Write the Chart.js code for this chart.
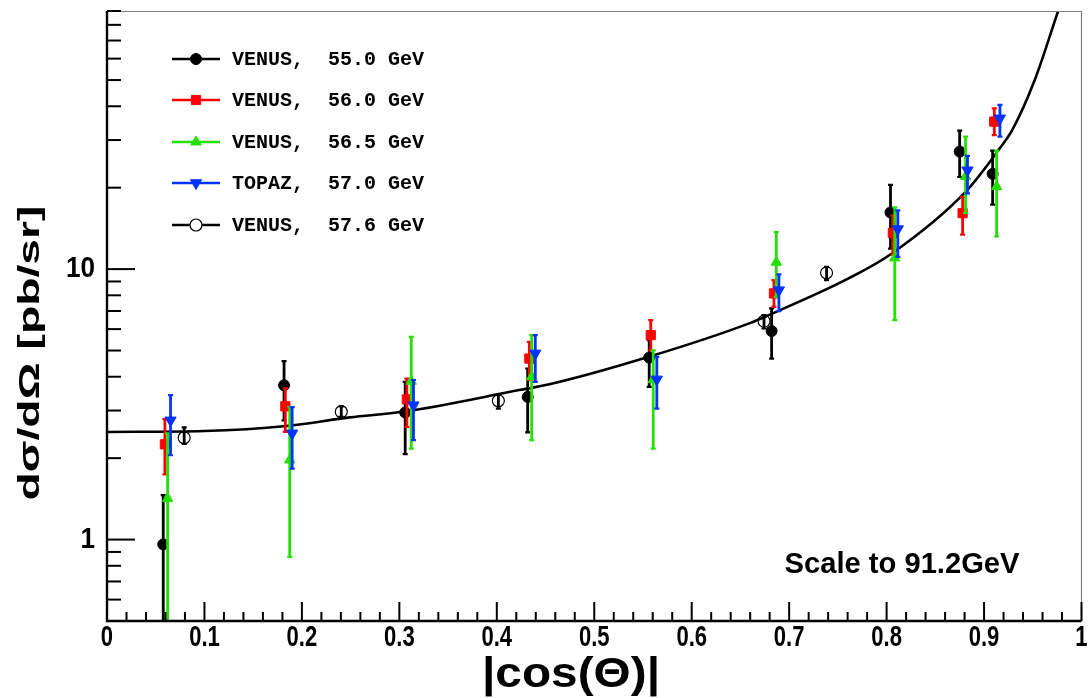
<!DOCTYPE html>
<html><head><meta charset="utf-8">
<script src="https://cdn.jsdelivr.net/npm/chart.js@4/dist/chart.umd.min.js"></script>
<style>html,body{margin:0;padding:0;background:#fff;}canvas{display:block;}</style>
</head><body>
<canvas id="c" width="1089" height="698"></canvas>
<script>
// ---- data ----
const seriesLabels = ['VENUS,  55.0 GeV','VENUS,  56.0 GeV','VENUS,  56.5 GeV','TOPAZ,  57.0 GeV','VENUS,  57.6 GeV'];

const v550_x  = [0.0577, 0.1817, 0.306, 0.4317, 0.5564, 0.682, 0.804, 0.875, 0.9088];
const v550_y  = [0.96, 3.72, 2.95, 3.37, 4.71, 5.90, 16.2, 27.2, 22.5];
const v550_lo = [0.40, 2.76, 2.07, 2.49, 3.67, 4.67, 11.9, 21.9, 17.3];
const v550_hi = [1.46, 4.57, 3.83, 4.29, 5.46, 7.16, 20.5, 32.5, 27.4];

const v560_x  = [0.0594, 0.183, 0.3077, 0.4334, 0.558, 0.6844, 0.8064, 0.878, 0.9105];
const v560_y  = [2.25, 3.11, 3.30, 4.67, 5.70, 8.13, 13.6, 16.1, 35.1];
const v560_lo = [1.74, 2.50, 2.61, 3.89, 5.01, 7.25, 11.3, 13.4, 31.3];
const v560_hi = [2.79, 3.62, 3.94, 5.38, 6.48, 9.11, 15.8, 18.5, 39.3];

const v565_x  = [0.0622, 0.1875, 0.3122, 0.4358, 0.5605, 0.6868, 0.8084, 0.881, 0.9129];
const v565_y  = [1.42, 1.97, 3.85, 4.0, 3.9, 10.6, 11.0, 22.0, 20.2];
const v565_lo = [0.40, 0.862, 2.17, 2.33, 2.17, 7.9, 6.48, 16.1, 13.2];
const v565_hi = [2.47, 3.09, 5.62, 5.70, 5.01, 13.7, 16.9, 30.9, 27.4];

const t570_x  = [0.0652, 0.190, 0.3145, 0.4395, 0.5642, 0.6895, 0.8115, 0.883, 0.9163];
const t570_y  = [2.76, 2.47, 3.14, 4.88, 3.91, 8.36, 14.06, 23.2, 36.1];
const t570_lo = [2.05, 1.83, 2.33, 3.83, 3.05, 6.99, 11.1, 19.05, 30.9];
const t570_hi = [3.42, 3.09, 3.89, 5.70, 4.74, 9.56, 16.5, 26.2, 40.5];

const v576_x  = [0.0792, 0.2404, 0.4016, 0.6742, 0.7384];
const v576_y  = [2.38, 2.97, 3.26, 6.42, 9.69];
const v576_lo = [2.26, 2.84, 3.05, 6.03, 9.1];
const v576_hi = [2.60, 3.11, 3.44, 6.76, 10.2];

const curve_x = [0, 0.1, 0.184, 0.249, 0.307, 0.423, 0.454, 0.556, 0.659, 0.679, 0.761, 0.805, 0.881, 0.915, 0.929, 0.952, 0.976];
const curve_y = [2.50, 2.52, 2.63, 2.83, 2.98, 3.57, 3.75, 4.74, 6.30, 6.76, 9.24, 11.4, 19.3, 27.6, 32.7, 50, 90];

const xTickValues = [0,0.1,0.2,0.3,0.4,0.5,0.6,0.7,0.8,0.9,1];
const yTickValues = [1, 10];
const noteText = 'Scale to 91.2GeV';
const xTitle = '|cos(\u0398)|';
const yTitle = 'd\u03C3/d\u03A9 [pb/sr]';

// ---- build ----
function pts(xs, ys, lo, hi){ return xs.map((x,i)=>({x:x, y:ys[i], lo:lo?lo[i]:null, hi:hi?hi[i]:null})); }

const seriesDefs = [
  {x:v550_x,y:v550_y,lo:v550_lo,hi:v550_hi,color:'#000000',style:'circle',r:5.5,rot:0,fill:'#000000',bw:1},
  {x:v560_x,y:v560_y,lo:v560_lo,hi:v560_hi,color:'#ff0000',style:'rect',r:6.5,rot:0,fill:'#ff0000',bw:1},
  {x:v565_x,y:v565_y,lo:v565_lo,hi:v565_hi,color:'#22e000',style:'triangle',r:6,rot:0,fill:'#22e000',bw:1},
  {x:t570_x,y:t570_y,lo:t570_lo,hi:t570_hi,color:'#0033ff',style:'triangle',r:6.5,rot:180,fill:'#0033ff',bw:1},
  {x:v576_x,y:v576_y,lo:v576_lo,hi:v576_hi,color:'#000000',style:'circle',r:6,rot:0,fill:'rgba(255,255,255,0)',bw:1.2}
];

const datasets = seriesDefs.map((s,i)=>({
  label: seriesLabels[i],
  data: pts(s.x,s.y,s.lo,s.hi),
  showLine:false,
  pointStyle:s.style,
  pointRadius:s.r,
  pointRotation:s.rot,
  pointBackgroundColor:s.fill,
  pointBorderColor:s.color,
  pointBorderWidth:s.bw,
  borderColor:s.color,
  errColor:s.color,
  order: 5 - i
}));
datasets.push({
  label:'curve',
  data: pts(curve_x, curve_y),
  showLine:true,
  pointRadius:0,
  borderColor:'#000',
  borderWidth:2.6,
  cubicInterpolationMode:'monotone',
  order: 10
});

const CA = {left:107, right:1083, top:11, bottom:621};
const SANS = '"Liberation Sans", Arial, sans-serif';

function fitText(ctx, text, cx, cy, font, width, rot){
  ctx.save();
  ctx.font = font; ctx.textAlign = 'center'; ctx.textBaseline = 'middle';
  const w = ctx.measureText(text).width;
  ctx.translate(cx, cy);
  if(rot) ctx.rotate(rot);
  ctx.scale(width / w, 1);
  ctx.fillText(text, 0, 0);
  ctx.restore();
}
function squeezeText(ctx, text, x, y, font, sx, align){
  ctx.save();
  ctx.font = font; ctx.textAlign = align; ctx.textBaseline = 'middle';
  ctx.translate(x, y); ctx.scale(sx, 1);
  ctx.fillText(text, 0, 0);
  ctx.restore();
}

const errPlugin = {
  id:'errbars',
  beforeDatasetDraw(chart, args){
    const ds = chart.data.datasets[args.index];
    if(!ds.errColor) return;
    const ctx = chart.ctx, xs = chart.scales.x, ys = chart.scales.y, ca = chart.chartArea;
    ctx.save();
    ctx.beginPath(); ctx.rect(ca.left, ca.top, ca.right-ca.left, ca.bottom-ca.top); ctx.clip();
    ctx.strokeStyle = ds.errColor; ctx.lineCap='butt';
    ds.data.forEach(p=>{
      if(p.lo==null) return;
      const px = xs.getPixelForValue(p.x);
      const yl = ys.getPixelForValue(p.lo), yh = ys.getPixelForValue(p.hi);
      ctx.lineWidth = 2.8;
      ctx.beginPath(); ctx.moveTo(px, yl); ctx.lineTo(px, yh); ctx.stroke();
      ctx.lineWidth = 2.2;
      ctx.beginPath(); ctx.moveTo(px-2.5, yl); ctx.lineTo(px+2.5, yl); ctx.moveTo(px-2.5, yh); ctx.lineTo(px+2.5, yh); ctx.stroke();
    });
    ctx.restore();
  }
};

const framePlugin = {
  id:'frame',
  afterDraw(chart){
    const ctx = chart.ctx, xs = chart.scales.x, ys = chart.scales.y, ca = chart.chartArea;
    ctx.save();
    ctx.strokeStyle = '#808080'; ctx.lineWidth = 1.2;
    ctx.beginPath(); ctx.moveTo(ca.left, ca.top+0.5); ctx.lineTo(ca.right, ca.top+0.5); ctx.lineTo(ca.right, ca.bottom); ctx.stroke();
    ctx.strokeStyle = '#000'; ctx.lineWidth = 2.4;
    ctx.beginPath(); ctx.moveTo(ca.left, ca.top); ctx.lineTo(ca.left, ca.bottom); ctx.lineTo(ca.right, ca.bottom); ctx.stroke();
    ctx.lineWidth = 2;
    for(let k=0;k<=50;k++){
      const v = k/50, px = xs.getPixelForValue(v);
      const len = (k%5===0) ? 19 : 9;
      ctx.beginPath(); ctx.moveTo(px, ca.bottom); ctx.lineTo(px, ca.bottom-len); ctx.stroke();
    }
    [0.1, 1, 10].forEach(d=>{
      for(let m=1;m<=9;m++){
        const v = d*m;
        if(v < ys.min-1e-9 || v > ys.max+1e-9) continue;
        const py = ys.getPixelForValue(v);
        const len = (m===1) ? 28 : 14;
        ctx.beginPath(); ctx.moveTo(ca.left, py); ctx.lineTo(ca.left+len, py); ctx.stroke();
      }
    });
    ctx.fillStyle = '#000';
    xTickValues.forEach(v=>{
      const t = (v===0||v===1) ? String(v) : v.toFixed(1);
      squeezeText(ctx, t, xs.getPixelForValue(v), 638, 'bold 29px ' + SANS, 0.76, 'center');
    });
    yTickValues.forEach(v=>{
      squeezeText(ctx, String(v), 95, ys.getPixelForValue(v), 'bold 29px ' + SANS, 0.9, 'right');
    });
    fitText(ctx, xTitle, 571, 675, 'bold 43px ' + SANS, 178, 0);
    fitText(ctx, yTitle, 31, 353, 'bold 30px ' + SANS, 295, -Math.PI/2);
    fitText(ctx, noteText, 902, 565, 'bold 29px ' + SANS, 235, 0);
    const rows = [59, 100, 142, 183, 225];
    chart.data.datasets.slice(0,5).forEach((ds,i)=>{
      const y = rows[i];
      ctx.strokeStyle = ds.borderColor; ctx.lineWidth = 2.6;
      ctx.beginPath(); ctx.moveTo(172, y); ctx.lineTo(220, y); ctx.stroke();
      ctx.save();
      ctx.fillStyle = (ds.pointBackgroundColor.indexOf('rgba')===0) ? '#fff' : ds.pointBackgroundColor;
      ctx.strokeStyle = ds.pointBorderColor; ctx.lineWidth = ds.pointBorderWidth;
      Chart.helpers.drawPoint(ctx, {pointStyle: ds.pointStyle, radius: ds.pointRadius, rotation: ds.pointRotation, borderWidth: ds.pointBorderWidth}, 196, y);
      ctx.restore();
      ctx.fillStyle = '#000';
      ctx.font = 'bold 20px "Liberation Mono", "Courier New", monospace';
      ctx.textAlign = 'left'; ctx.textBaseline = 'middle';
      ctx.fillText(ds.label, 232, y+1);
    });
    ctx.restore();
  }
};

new Chart(document.getElementById('c'), {
  type:'scatter',
  data:{datasets},
  options:{
    responsive:false, animation:false, devicePixelRatio:1,
    layout:{padding:{top:CA.top, right:1089-CA.right, left:0, bottom:0}},
    plugins:{legend:{display:false}, tooltip:{enabled:false}},
    elements:{point:{hitRadius:0}},
    scales:{
      x:{type:'linear', min:0, max:1,
        grid:{display:false, drawTicks:false}, border:{display:false},
        afterBuildTicks(s){ s.ticks = xTickValues.map(v=>({value:v})); },
        afterFit(s){ s.height = 698-CA.bottom; s.paddingLeft=0; s.paddingRight=0; },
        ticks:{display:false}
      },
      y:{type:'logarithmic', min:0.5, max:90,
        grid:{display:false, drawTicks:false}, border:{display:false},
        afterBuildTicks(s){ s.ticks = yTickValues.map(v=>({value:v})); },
        afterFit(s){ s.width = CA.left; s.paddingTop=0; s.paddingBottom=0; },
        ticks:{display:false}
      }
    }
  },
  plugins:[errPlugin, framePlugin]
});
</script>
</body></html>
